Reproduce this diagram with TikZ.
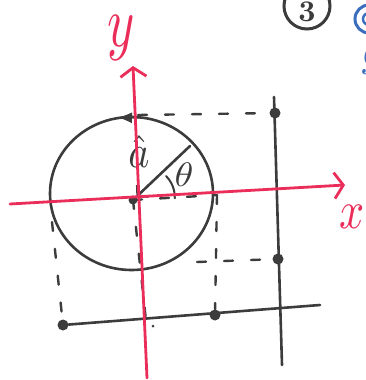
\documentclass[tikz,border=0pt]{standalone}
\usepackage{graphicx}
\usetikzlibrary{arrows.meta}
\definecolor{pen}{RGB}{60,60,60}
\definecolor{redpen}{RGB}{235,45,90}
\definecolor{bluepen}{RGB}{60,110,190}
\begin{document}
\begin{tikzpicture}[x=1pt,y=-1pt,
  ink/.style={draw=pen,line width=2.6pt,line cap=round},
  redink/.style={draw=redpen,line width=2.8pt,line cap=round},
  dashink/.style={draw=pen,line width=2.4pt,dash pattern=on 9pt off 18pt,line cap=round},
  dot/.style={circle,fill=pen,inner sep=0pt,minimum size=11pt},
  axtip/.style={-{Straight Barb[length=9pt,width=26pt,line width=2.8pt]}}]
\useasboundingbox (0,0) rectangle (366,380);
% coordinates
\coordinate (O) at (133,200);
\coordinate (ytop) at (133,66);
\coordinate (ybot) at (147,378);
\coordinate (xleft) at (10,204);
\coordinate (xright) at (345,185);
\coordinate (R) at (190,146);
\coordinate (ctop) at (138,115);
\coordinate (xe) at (217,195);
\coordinate (cleft) at (52,222);
\coordinate (cbr) at (197,262);
\coordinate (vtop) at (274,97);
\coordinate (vbot) at (282,365);
\coordinate (hend) at (320,305);
\coordinate (ydash) at (147,330);
% dots
\node[dot] (pa) at (275,113) {};
\node[dot] (pb) at (278,259) {};
\node[dot] (pc) at (63,325) {};
\node[dot] (pd) at (215,315) {};
\node[dot,minimum size=9pt] (pO) at (O) {};
% circle
\draw[ink] (131.5,193.5) ellipse [x radius=81.5, y radius=76.5];
\draw[pen,line width=1pt,-{Latex[length=14pt,width=11pt]}] (142,118) -- (118,117.5);
% radius vector and angle
\draw[ink,-{Straight Barb[length=7pt,width=16pt,line width=2.4pt]}] (R) -- (pO);
\draw[ink,line width=2pt] (166,176) arc[start angle=-45,end angle=2,radius=30];
\node[text=pen,inner sep=0pt] (theta) at (184,175) {\scalebox{3.8}[3.4]{$\theta$}};
\node[text=pen,inner sep=0pt] (avec) at (139,152) {\scalebox{4}[4.6]{$\hat{a}$}};
% dashed projections
\draw[dashink] (ctop) -- (pa);
\draw[dashink] (O) -- (xe);
\draw[dashink] (xe) -- (pd);
\draw[dashink] (cbr) -- (pb);
\draw[dashink] (cleft) -- (pc);
\draw[dashink] (O) -- (ydash);
% black lines
\draw[ink] (vtop) -- (vbot);
\draw[ink] (pc) -- (hend);
\node[dot,minimum size=3pt] (speck) at (153,326) {};
% axes
\draw[redink,axtip] (ybot) -- (ytop);
\draw[redink,axtip] (xleft) -- (xright);
\node[text=redpen,inner sep=0pt] (ylab) at (121,38) {\scalebox{5.2}[7.2]{$y$}};
\node[text=redpen,inner sep=0pt] (xlab) at (352,217) {\scalebox{4.4}[5.4]{$x$}};
% corner marks
\draw[pen,line width=3pt] (307,6) circle[x radius=23,y radius=23];
\node[text=pen,inner sep=0pt] (three) at (307,12) {\scalebox{3}{\bfseries 3}};
\draw[bluepen,line width=3pt] (369,19) circle[radius=14];
\draw[bluepen,line width=2.4pt] (369,19) circle[radius=6];
\node[text=bluepen,inner sep=0pt] (gl) at (372,60) {\scalebox{4}[4.6]{$g$}};
\end{tikzpicture}
\end{document}
